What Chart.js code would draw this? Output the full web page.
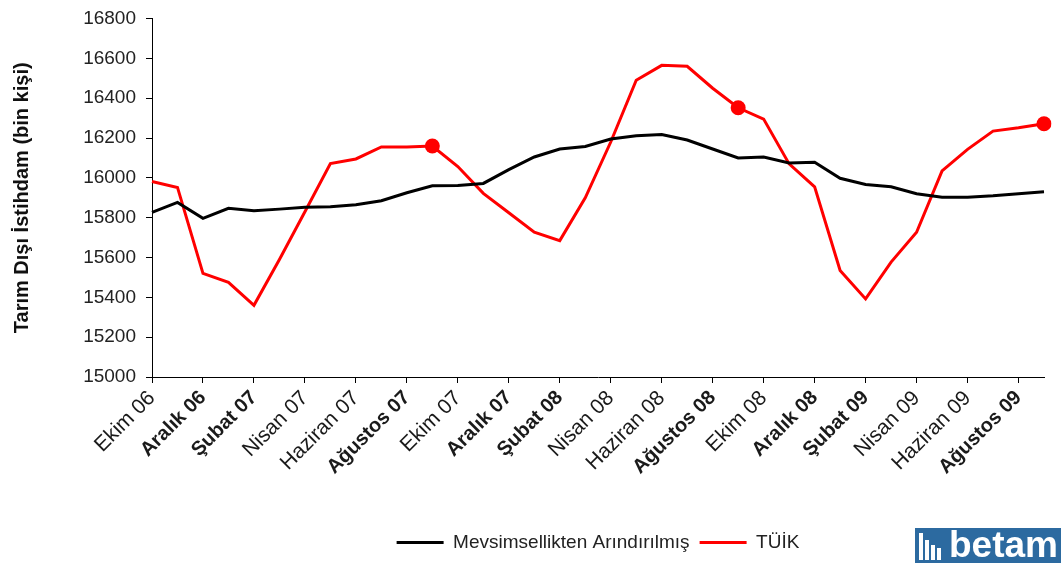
<!DOCTYPE html>
<html>
<head>
<meta charset="utf-8">
<script src="https://cdn.jsdelivr.net/npm/chart.js@4"></script>
<style>
    body { margin: 0; background: #fff; }
    #wrap { position: relative; width: 1061px; height: 563px; }
    .logo {
        position: absolute; left: 915px; top: 528px; width: 146px; height: 35px;
        background: #2c6aa0; color: #fff; font: bold 37px Arial, sans-serif;
        line-height: 34px; text-align: right; padding-right: 3px; box-sizing: border-box;
    }
    .logo .bars { position: absolute; left: 4px; bottom: 3px; width: 26px; height: 27px; }
    .logo .bars span { position: absolute; bottom: 0; width: 4px; background: #fff; }
</style>
</head>
<body>
<div id="wrap">
    <canvas id="chart"></canvas>
    <div class="logo">
        <div class="bars"><span style="left:0;height:27px"></span><span style="left:6px;height:20px"></span><span style="left:12px;height:15px"></span><span style="left:18px;height:12px"></span></div>
        betam
    </div>
</div>
<script>
// aylar: Ekim 06 - Eylül 09
const months = [
    'Ekim 06', 'Kasım 06', 'Aralık 06', 'Ocak 07', 'Şubat 07', 'Mart 07', 'Nisan 07', 'Mayıs 07', 'Haziran 07', 'Temmuz 07', 'Ağustos 07', 'Eylül 07',
    'Ekim 07', 'Kasım 07', 'Aralık 07', 'Ocak 08', 'Şubat 08', 'Mart 08', 'Nisan 08', 'Mayıs 08', 'Haziran 08', 'Temmuz 08', 'Ağustos 08', 'Eylül 08',
    'Ekim 08', 'Kasım 08', 'Aralık 08', 'Ocak 09', 'Şubat 09', 'Mart 09', 'Nisan 09', 'Mayıs 09', 'Haziran 09', 'Temmuz 09', 'Ağustos 09', 'Eylül 09'
];

const seasonallyAdjusted = [
    15827, 15877, 15797, 15847, 15835, 15843, 15852, 15855, 15865, 15885, 15925, 15960,
    15962, 15972, 16041, 16105, 16145, 16158, 16195, 16212, 16218, 16190, 16145, 16100,
    16105, 16075, 16078, 15998, 15967, 15955, 15920, 15903, 15903, 15910, 15920, 15930
];

const tuik = [
    15982, 15952, 15520, 15475, 15360, 15590, 15830, 16072, 16095, 16155, 16155, 16160,
    16057, 15922, 15825, 15727, 15685, 15900, 16180, 16490, 16565, 16560, 16450, 16352,
    16295, 16070, 15955, 15535, 15392, 15577, 15727, 16035, 16143, 16235, 16252, 16272
];

// kırmızı noktayla işaretlenen aylar
const markedMonths = ['Eylül 07', 'Eylül 08', 'Eylül 09'];
const boldMonthNames = ['Aralık', 'Şubat', 'Ağustos'];

const yMin = 15000, yMax = 16800, yStep = 200;

function isBold(label) {
    return boldMonthNames.includes(String(label || '').split(' ')[0]);
}

new Chart(document.getElementById('chart'), {
    type: 'line',
    data: {
        labels: months,
        datasets: [
            {
                label: 'Mevsimsellikten Arındırılmış',
                data: seasonallyAdjusted,
                borderColor: '#000',
                backgroundColor: '#000',
                borderWidth: 3,
                pointRadius: 0,
                tension: 0
            },
            {
                label: 'TÜİK',
                data: tuik,
                borderColor: '#f00',
                backgroundColor: '#f00',
                borderWidth: 3,
                pointRadius: ctx => markedMonths.includes(months[ctx.dataIndex]) ? 7.5 : 0,
                pointBackgroundColor: '#f00',
                pointBorderWidth: 0,
                tension: 0
            }
        ]
    },
    options: {
        responsive: true,
        maintainAspectRatio: false,
        animation: false,
        layout: { padding: { top: 2, right: 17, bottom: 1, left: 0 } },
        plugins: {
            legend: {
                position: 'bottom',
                fullSize: false,
                labels: {
                    boxWidth: 47,
                    boxHeight: 3,
                    padding: 10,
                    color: '#222',
                    font: { family: 'Arial', size: 19 },
                    generateLabels: chart => Chart.defaults.plugins.legend.labels.generateLabels(chart).map(l => ({ ...l, lineWidth: 0 }))
                }
            },
            tooltip: { enabled: false }
        },
        scales: {
            x: {
                offset: false,
                afterFit: scale => { scale.height = 146; },
                grid: { drawOnChartArea: false, drawTicks: true, tickLength: 6, color: '#000' },
                border: { color: '#000', width: 1 },
                ticks: {
                    autoSkip: false,
                    maxRotation: 45,
                    minRotation: 45,
                    padding: 3,
                    color: '#1a1a1a',
                    callback: (v, i) => i % 2 === 0 ? months[i] : null,
                    font: ctx => {
                        const bold = isBold(ctx.tick && ctx.tick.label);
                        return { family: 'Arial', size: bold ? 20 : 21, weight: bold ? 'bold' : 'normal' };
                    }
                }
            },
            y: {
                min: yMin,
                max: yMax,
                afterFit: scale => { scale.width = 152; },
                grid: { drawOnChartArea: false, drawTicks: true, tickLength: 6, color: '#000' },
                border: { color: '#000', width: 1 },
                ticks: {
                    stepSize: yStep,
                    padding: 10,
                    color: '#222',
                    font: { family: 'Arial', size: 19, lineHeight: 0.9 },
                    callback: v => String(v)
                },
                title: {
                    display: true,
                    text: 'Tarım Dışı İstihdam (bin kişi)',
                    color: '#111',
                    font: { family: 'Arial', size: 20, weight: 'bold' },
                    padding: { top: 10, bottom: 0 }
                }
            }
        }
    }
});
</script>
</body>
</html>
